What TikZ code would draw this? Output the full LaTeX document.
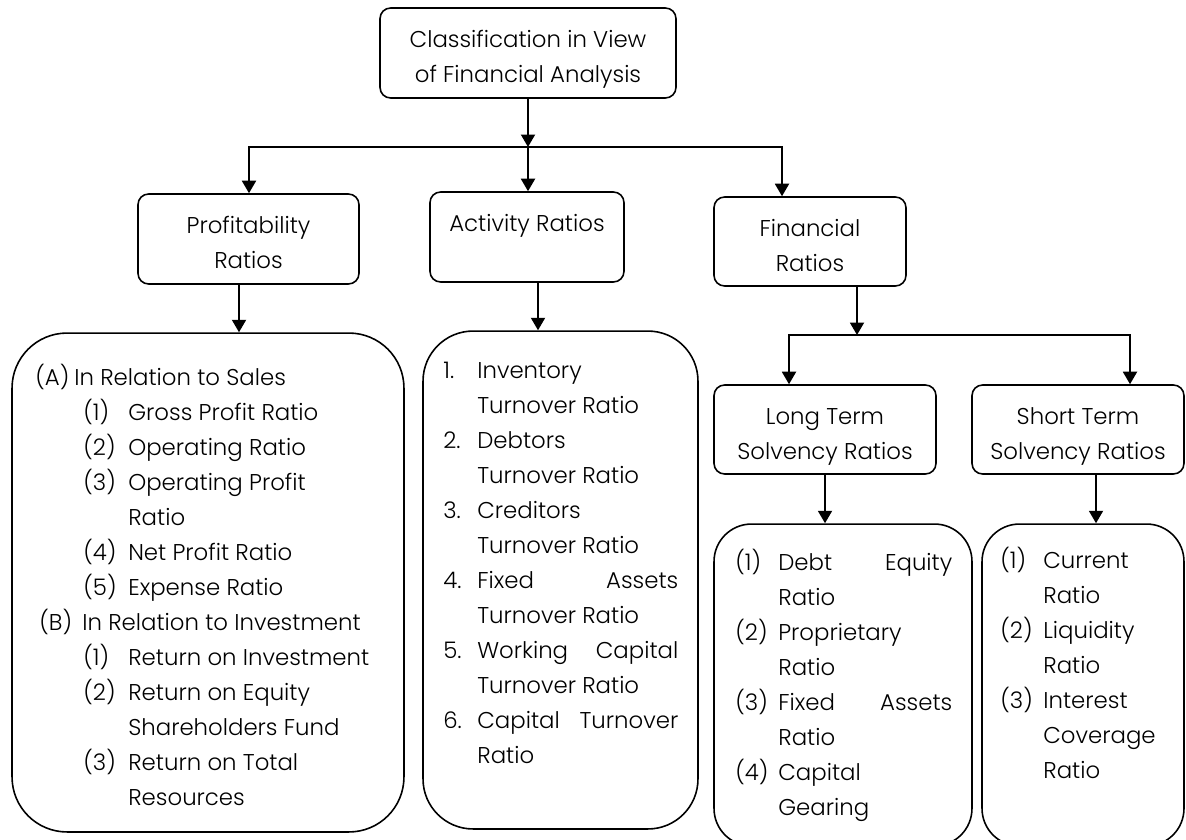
\documentclass[tikz,border=0pt]{standalone}
\usepackage{fontspec}
\setmainfont{Poppins}[UprightFont=* Light]
\usetikzlibrary{arrows.meta, positioning}

% list lines: label box, then text
\newcommand{\pitem}[2]{\hspace*{0.96cm}\makebox[0.9cm][l]{#1}#2}
\newcommand{\pcont}[1]{\hspace*{1.86cm}#1}
\newcommand{\aitem}[2]{\makebox[0.68cm][l]{#1}#2}
\newcommand{\acont}[1]{\hspace*{0.68cm}#1}
\newcommand{\sitem}[2]{\makebox[0.86cm][l]{#1}#2}
\newcommand{\scont}[1]{\hspace*{0.86cm}#1}

\begin{document}
\begin{tikzpicture}[
        x=0.02cm, y=-0.02cm,
        font=\fontsize{13pt}{19.92pt}\selectfont,
        head/.style={rectangle, draw=black, line width=0.9pt, rounded corners=6pt,
                     minimum height=1.8cm, align=center, inner sep=2pt,
                     execute at begin node={\rule[-4pt]{0pt}{41.9pt}}},
        listbox/.style={rectangle, draw=black, line width=0.9pt},
        listtxt/.style={anchor=north west, inner sep=0pt, align=left},
        arr/.style={-{Triangle[length=0.25cm, width=0.28cm]}, line width=1.1pt}
    ]
    \useasboundingbox (0,0) rectangle (1186,839);

    % root
    \node[head, minimum width=5.92cm] (root) at (528,53) {Classification in View\\of Financial Analysis};

    % second row
    \node[head, minimum width=4.42cm] (prof) at (248.5,239) {Profitability\\Ratios};
    \node[head, minimum width=3.88cm] (act)  at (527,237)   {Activity Ratios\\\mbox{}};
    \node[head, minimum width=3.84cm, minimum height=1.78cm] (fin) at (810,241.5) {Financial\\Ratios};

    % solvency row
    \node[head, minimum width=4.44cm, minimum height=1.78cm] (lts) at (825,429.5)  {Long Term\\Solvency Ratios};
    \node[head, minimum width=4.24cm, minimum height=1.78cm] (sts) at (1078,429.5) {Short Term\\Solvency Ratios};

    % list boxes
    \node[listbox, rounded corners=1.1cm, minimum width=7.84cm, minimum height=9.98cm] (plist) at (208,582.5) {};
    \node[listbox, rounded corners=1.0cm, minimum width=5.5cm, minimum height=9.96cm]  (alist) at (560.5,580) {};
    \node[listbox, rounded corners=0.75cm, minimum width=5.16cm, minimum height=6.44cm] (llist) at (843,685) {};
    \node[listbox, rounded corners=0.75cm, minimum width=4.04cm, minimum height=6.44cm] (slist) at (1083,685) {};

    % list texts
    \node[listtxt] (ptxt) at (35,364) {%
        \makebox[0.78cm][l]{(A)}In Relation to Sales\\
        \pitem{(1)}{Gross Profit Ratio}\\
        \pitem{(2)}{Operating Ratio}\\
        \pitem{(3)}{Operating Profit}\\
        \pcont{Ratio}\\
        \pitem{(4)}{Net Profit Ratio}\\
        \pitem{(5)}{Expense Ratio}\\
        \hspace*{0.08cm}\makebox[0.86cm][l]{(B)}In Relation to Investment\\
        \pitem{(1)}{Return on Investment}\\
        \pitem{(2)}{Return on Equity}\\
        \pcont{Shareholders Fund}\\
        \pitem{(3)}{Return on Total}\\
        \pcont{Resources}};
    \node[listtxt] (atxt) at (443,362) {%
        \aitem{1.}{Inventory}\\
        \acont{Turnover Ratio}\\
        \aitem{2.}{Debtors}\\
        \acont{Turnover Ratio}\\
        \aitem{3.}{Creditors}\\
        \acont{Turnover Ratio}\\
        \aitem{4.}{\makebox[4.02cm]{Fixed\hfill Assets}}\\
        \acont{Turnover Ratio}\\
        \aitem{5.}{\makebox[4.02cm]{Working\hfill Capital}}\\
        \acont{Turnover Ratio}\\
        \aitem{6.}{\makebox[4.02cm]{Capital\hfill Turnover}}\\
        \acont{Ratio}};
    \node[listtxt] (ltxt) at (735,549) {%
        \sitem{(1)}{\makebox[3.48cm]{Debt\hfill Equity}}\\
        \scont{Ratio}\\
        \sitem{(2)}{Proprietary}\\
        \scont{Ratio}\\
        \sitem{(3)}{\makebox[3.48cm]{Fixed\hfill Assets}}\\
        \scont{Ratio}\\
        \sitem{(4)}{Capital}\\
        \scont{Gearing}};
    \node[listtxt] (stxt) at (1000,547) {%
        \sitem{(1)}{Current}\\
        \scont{Ratio}\\
        \sitem{(2)}{Liquidity}\\
        \scont{Ratio}\\
        \sitem{(3)}{Interest}\\
        \scont{Coverage}\\
        \scont{Ratio}};

    % joints of the branches
    \coordinate (j1)  at (528,147);
    \coordinate (j1l) at (249,147);
    \coordinate (j1r) at (782,147);
    \coordinate (j2)  at (857,335);
    \coordinate (j2l) at (789,335);
    \coordinate (j2r) at (1130,335);
    \path (prof.south) ++(-9.5,0) coordinate (pdrop);
    \path (act.south)  ++(11,0)   coordinate (adrop);
    \path (sts.south)  ++(18,0)   coordinate (sdrop);

    % root -> second row
    \draw[arr] (root.south) -- (j1);
    \draw[arr] (j1) -- (j1l) -- (j1l |- prof.north);
    \draw[arr] (j1) -- (j1 |- act.north);
    \draw[arr] (j1) -- (j1r) -- (j1r |- fin.north);

    % financial -> solvency
    \draw[arr] (fin.south -| j2) -- (j2);
    \draw[arr] (j2) -- (j2l) -- (j2l |- lts.north);
    \draw[arr] (j2) -- (j2r) -- (j2r |- sts.north);

    % heads -> lists
    \draw[arr] (pdrop) -- (pdrop |- plist.north);
    \draw[arr] (adrop) -- (adrop |- alist.north);
    \draw[arr] (lts.south) -- (lts.south |- llist.north);
    \draw[arr] (sdrop) -- (sdrop |- slist.north);

\end{tikzpicture}
\end{document}
